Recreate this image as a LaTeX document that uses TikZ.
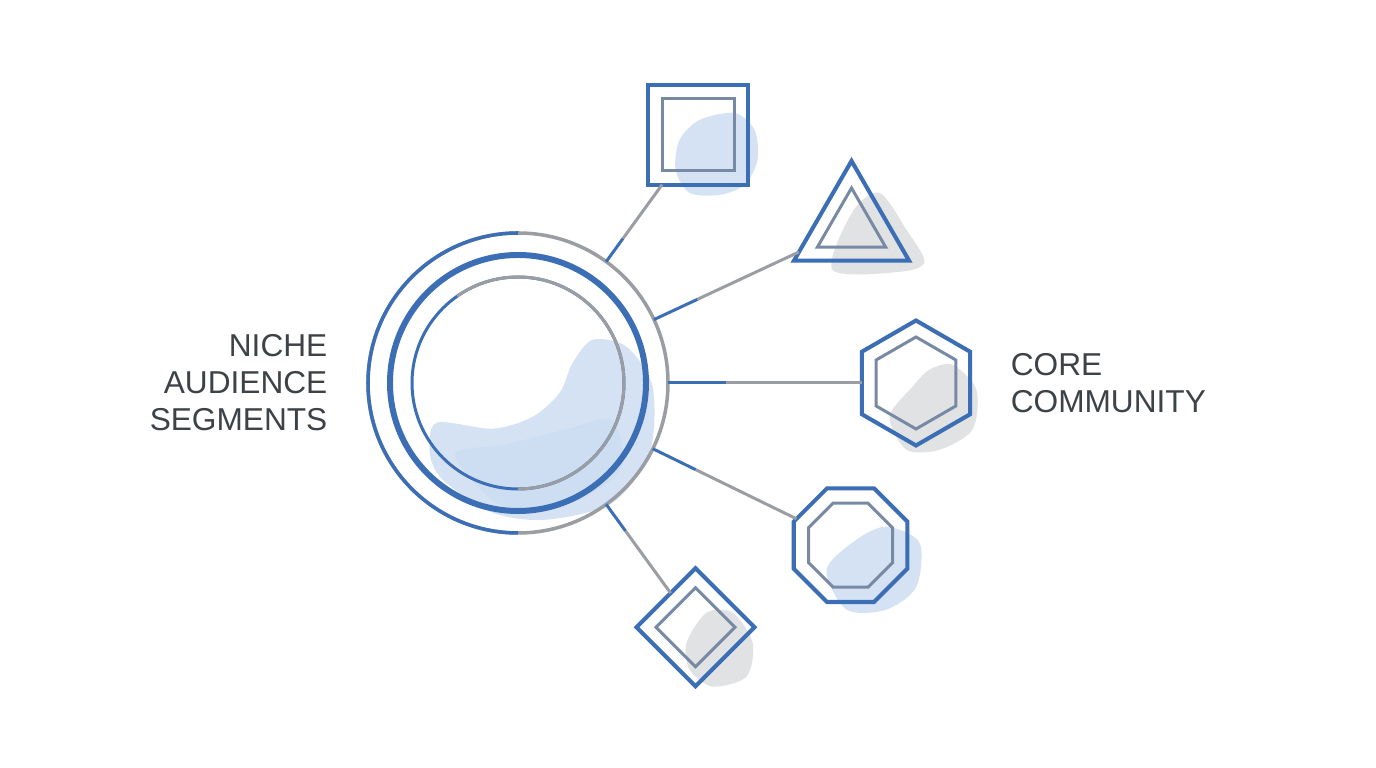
\documentclass[tikz,border=0pt]{standalone}
\usepackage{fontspec}
\setmainfont{Liberation Sans}
\usetikzlibrary{shapes.geometric,positioning,calc}

\definecolor{shapeblue}{HTML}{3B6EB5}
\definecolor{linegray}{HTML}{9A9DA2}
\definecolor{innerline}{HTML}{7889A3}
\definecolor{washblue}{HTML}{C3D7F0}
\definecolor{washgray}{HTML}{D4D6D9}
\definecolor{textdark}{HTML}{3D4247}

\tikzset{
  outer/.style={draw=shapeblue, line width=1.15pt, inner sep=0pt, outer sep=0pt},
  inner/.style={draw=innerline, line width=0.85pt, inner sep=0pt, outer sep=0pt},
  poly/.style={regular polygon, regular polygon sides=#1},
  ring/.style={circle, inner sep=0pt, outer sep=0pt},
  link/.style={draw=linegray, line width=0.85pt},
  wash/.style={fill=washblue, opacity=0.7},
  caption/.style={text=textdark, font=\fontsize{9}{10.5}\selectfont, inner sep=0pt}
}

\begin{document}
\begin{tikzpicture}[node distance=0.4cm]
  \fill[white] (0,0) rectangle (13.76,7.68);
  \useasboundingbox (0,0) rectangle (13.76,7.68);

  % watercolour washes, in pixel coordinates
  \begin{scope}[x=0.01cm, y=-0.01cm, shift={(0cm,7.68cm)}]
    \fill[wash] plot[smooth cycle] coordinates {(437,423) (493,429) (533,417) (560,393) (573,363) (593,340) (627,347) (653,387) (650,453) (613,503) (547,520) (493,513) (443,480) (430,453)};
    \fill[wash, opacity=0.35] plot[smooth cycle] coordinates {(455,455) (505,445) (565,430) (612,420) (622,468) (572,503) (502,506)};
    \fill[wash] plot[smooth cycle] coordinates {(680,140) (700,120) (735,113) (755,130) (758,160) (745,185) (720,195) (690,193) (676,170)};
    \fill[wash, fill=washgray] plot[smooth cycle] coordinates {(833,270) (853,212) (880,193) (907,230) (925,262) (900,272)};
    \fill[wash, fill=washgray] plot[smooth cycle] coordinates {(890,417) (913,387) (930,370) (953,365) (977,390) (973,430) (940,450) (907,450)};
    \fill[wash] plot[smooth cycle] coordinates {(827,570) (857,540) (887,527) (920,543) (917,587) (887,610) (847,610)};
    \fill[wash, fill=washgray] plot[smooth cycle] coordinates {(687,643) (707,613) (733,613) (753,643) (747,677) (713,687) (690,670)};
  \end{scope}

  % hub rings
  \node[ring, minimum size=3cm] (hub) at (5.18,3.85) {};
  \draw[link, line width=1pt] (hub) circle[radius=1.5cm];
  \draw[link, draw=shapeblue, line width=1pt] (hub.90) arc[start angle=90, end angle=270, radius=1.5cm];
  \node[ring, draw=shapeblue, line width=1.7pt, minimum size=2.56cm] (band) at (hub) {};
  \node[ring, minimum size=2.12cm] (core) at (hub) {};
  \draw[link, draw=shapeblue] (core) circle[radius=1.06cm];
  \draw[link] (core.-90) arc[start angle=-90, end angle=125, radius=1.06cm];

  % outer shapes
  \node[outer, rectangle, minimum size=1cm]         (sq)  at ($(hub)+(54:3.07)$)  {};
  \node[outer, poly=3, minimum size=1.33cm]         (tri) at ($(hub)+(25:3.68)$)  {};
  \node[outer, poly=6, shape border rotate=30, minimum size=1.25cm] (hex) at ($(hub)+(0:3.98)$) {};
  \node[outer, poly=8, minimum size=1.23cm]         (oct) at ($(hub)+(-26:3.70)$) {};
  \node[outer, poly=4, shape border rotate=45, minimum size=1.18cm] (dia) at ($(hub)+(-54:3.02)$) {};

  % inner shapes
  \node[inner, rectangle, minimum size=0.72cm]      (sq-in)  at (sq)  {};
  \node[inner, poly=3, minimum size=0.79cm]         (tri-in) at (tri) {};
  \node[inner, poly=6, shape border rotate=30, minimum size=0.92cm] (hex-in) at (hex) {};
  \node[inner, poly=8, minimum size=0.91cm]         (oct-in) at (oct) {};
  \node[inner, poly=4, shape border rotate=45, minimum size=0.79cm] (dia-in) at (dia) {};

  % links
  \foreach \s in {sq,tri,hex,oct,dia}{
    \path (hub) -- coordinate[pos=0.3] (\s-mid) (\s);
    \draw[link, draw=shapeblue] (hub) -- (\s-mid);
    \draw[link] (\s-mid) -- (\s);
  }

  \node[caption, align=right] (niche) [left=of hub] {NICHE\\AUDIENCE\\SEGMENTS};
  \node[caption, align=left]  (community) [right=of hex] {CORE\\COMMUNITY};
\end{tikzpicture}
\end{document}
